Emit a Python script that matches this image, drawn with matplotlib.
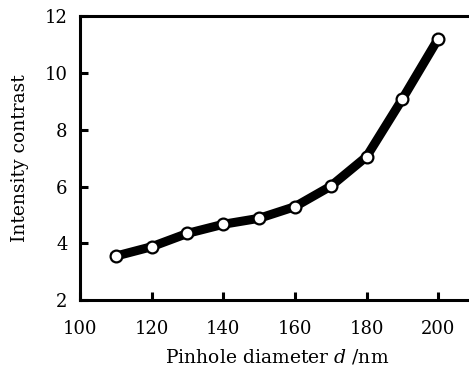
import matplotlib as mpl
mpl.use('Agg')
import matplotlib.pyplot as plt

mpl.rcParams['font.family'] = 'DejaVu Serif'
mpl.rcParams['mathtext.fontset'] = 'dejavuserif'

# pinhole diameter (nm) and intensity contrast
diameter = [110, 120, 130, 140, 150, 160, 170, 180, 190, 200]
contrast = [3.55, 3.88, 4.35, 4.67, 4.88, 5.29, 6.01, 7.05, 9.08, 11.2]

fig = plt.figure(figsize=(4.69, 3.66), dpi=100)
ax = fig.add_axes([0.1706, 0.180, 0.84, 0.776])

ax.plot(diameter, contrast, color='black', lw=6.5, marker='o', ms=8.5,
        mfc='white', mec='black', mew=1.6, solid_joinstyle='round')

ax.set_xlim(100, 210)
ax.set_ylim(2, 12)
ax.set_xticks([100, 120, 140, 160, 180, 200])
ax.set_yticks([2, 4, 6, 8, 10, 12])
ax.tick_params(direction='in', length=6, width=2.2, labelsize=13)
ax.tick_params(axis='x', pad=14)
ax.tick_params(axis='y', pad=9)
for s in ax.spines.values():
    s.set_linewidth(2.2)
ax.spines['right'].set_visible(False)

ax.set_xlabel('Pinhole diameter $d$ /nm', fontsize=13.5, labelpad=7)
ax.set_ylabel('Intensity contrast', fontsize=13.5, labelpad=11)

fig.savefig('out.png', dpi=100)
plt.close()
